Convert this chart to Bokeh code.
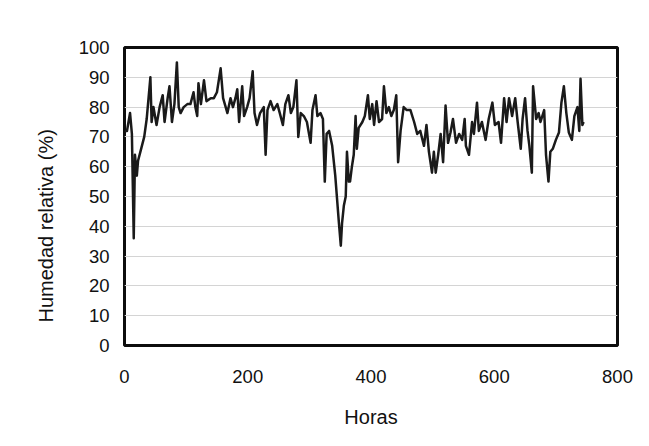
from bokeh.plotting import figure
from bokeh.models import FixedTicker, Range1d, Title
from bokeh.embed import file_html
from bokeh.resources import INLINE

hours = [0, 4, 9, 12, 15, 17, 20, 22, 27, 32, 36, 42, 44, 47, 52, 57, 62, 65, 70, 73,
         77, 81, 85, 88, 91, 96, 102, 107, 112, 115, 118, 120, 124, 129, 133, 140, 145,
         150, 156, 160, 167, 172, 176, 180, 183, 186, 191, 194, 199, 203, 208, 211, 215,
         220, 226, 229, 232, 237, 242, 248, 252, 257, 261, 266, 270, 274, 279, 282, 286,
         291, 296, 302, 305, 310, 313, 318, 322, 325, 328, 332, 337, 342, 348, 351, 353,
         356, 359, 361, 364, 366, 369, 372, 375, 377, 380, 386, 390, 395, 398, 402, 405,
         409, 413, 418, 421, 425, 429, 433, 437, 441, 444, 448, 453, 458, 464, 470, 475,
         480, 486, 490, 494, 499, 502, 505, 509, 513, 517, 521, 525, 529, 533, 538, 543,
         548, 552, 554, 559, 564, 567, 572, 575, 580, 586, 591, 597, 601, 607, 611, 616,
         620, 624, 629, 634, 638, 643, 646, 650, 654, 657, 661, 663, 668, 672, 675, 681,
         684, 688, 691, 695, 700, 705, 709, 713, 717, 721, 726, 730, 735, 738, 740, 743, 745]

humedad = [72, 72, 78, 71, 36, 64, 57, 62, 66, 70, 76, 90, 75, 80, 74, 80, 84, 75, 83, 87,
           75, 81, 95, 80, 78, 80, 81, 81, 85, 80, 77, 88, 81, 89, 82, 83, 83,
           85, 93, 83, 78, 83, 80, 83, 86, 75, 87, 77, 80, 83, 92, 78, 74,
           78, 80, 64, 79, 82, 79, 81, 78, 74, 81, 84, 78, 80, 89, 70, 78,
           77, 75, 68, 79, 84, 77, 78, 76, 55, 71, 72, 67, 57, 41, 33.5, 41,
           47, 50, 65, 55, 55, 60, 64, 77, 66, 73, 75, 77, 84, 76, 81, 74,
           82, 75, 76, 87, 78, 80, 77, 79, 84, 61.5, 72, 80, 79, 79, 75, 71,
           72, 67, 74, 65, 58, 65, 58, 64, 71, 61.5, 80.5, 68, 71.5, 76, 68, 71,
           69, 76, 67, 64, 75, 71, 81.5, 72, 75, 69, 76, 81.5, 74, 75, 68, 83,
           75, 83, 77, 83, 75, 66, 76, 83, 72, 67, 58, 87, 76, 78, 75, 79,
           64, 55, 65, 66, 69, 71.5, 81.5, 87, 78, 71.5, 69, 77, 80, 72, 89.5, 74, 75]

x_ticks = [0, 200, 400, 600, 800]
y_ticks = [0, 10, 20, 30, 40, 50, 60, 70, 80, 90, 100]

FONT = "Liberation Sans"

p = figure(width=641, height=438, output_backend="svg", toolbar_location=None,
           x_range=Range1d(0, 800), y_range=Range1d(0, 100),
           min_border_left=124, min_border_right=24, min_border_top=47,
           min_border_bottom=93)
p.frame_width = 493
p.frame_height = 298

p.line(hours, humedad, line_color="#1a1a1a", line_width=2.5, line_join="round")

p.xaxis.ticker = FixedTicker(ticks=x_ticks)
p.yaxis.ticker = FixedTicker(ticks=y_ticks)
for ax in (p.xaxis[0], p.yaxis[0]):
    ax.axis_line_color = None
    ax.major_tick_line_color = None
    ax.minor_tick_line_color = None
    ax.major_tick_in = 0
    ax.major_tick_out = 0
    ax.minor_tick_in = 0
    ax.minor_tick_out = 0
    ax.major_label_text_font = FONT
    ax.major_label_text_font_size = "18.5px"
    ax.major_label_text_color = "#111111"
    ax.axis_label_text_font = FONT
    ax.axis_label_text_font_size = "20px"
    ax.axis_label_text_font_style = "normal"
    ax.axis_label_text_color = "#111111"

p.xaxis.axis_label = "Horas"
p.xaxis.major_label_standoff = 24
p.xaxis.axis_label_standoff = 20
p.yaxis.major_label_standoff = 15

ytitle = Title(text="Humedad relativa (%)", align="left", offset=23, standoff=38,
               text_font=FONT, text_font_size="20px", text_font_style="normal",
               text_color="#111111")
p.add_layout(ytitle, "left")

p.xgrid.grid_line_color = None
p.ygrid.grid_line_color = "#d4d4d4"
p.ygrid.grid_line_width = 1

p.outline_line_color = "#0d0d0d"
p.outline_line_width = 3
p.background_fill_color = "white"
p.border_fill_color = "white"

open("out.html", "w").write(file_html(p, INLINE))
